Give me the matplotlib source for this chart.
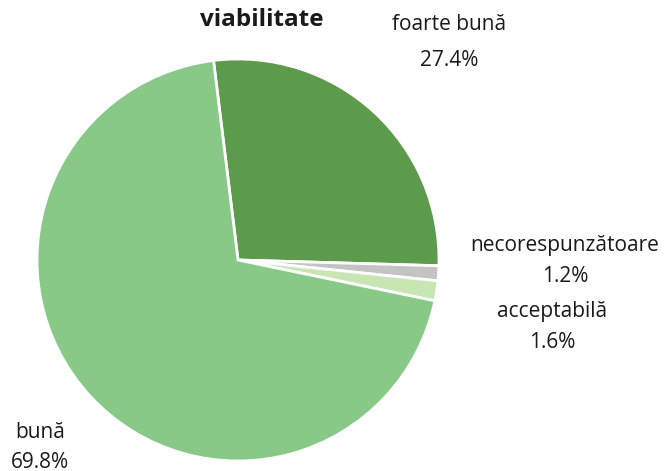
import matplotlib.pyplot as plt

categories = ["foarte bună", "necorespunzătoare", "acceptabilă", "bună"]
shares = [27.4, 1.2, 1.6, 69.8]
pct_labels = ["27.4%", "1.2%", "1.6%", "69.8%"]
colors = ["#5c9a4c", "#c3c3c3", "#c8e6b4", "#88c987"]

W, H = 665, 471
fig = plt.figure(figsize=(W / 100, H / 100), dpi=100)
ax = fig.add_axes([0, 0, 1, 1])

ax.pie(
    shares,
    colors=colors,
    startangle=97,
    counterclock=False,
    center=(238, H - 260),
    radius=201,
    explode=[0.015, 0, 0, 0],
    wedgeprops=dict(edgecolor="white", linewidth=2),
    frame=True,
)
ax.set_xlim(0, W)
ax.set_ylim(0, H)
ax.axis("off")

font = "Open Sans"
ax.text(262, H - 20, "viabilitate", ha="center", va="center",
        fontsize=17.5, fontweight="bold", family=font, color="#1a1a1a")

# label positions in pixels: x, y of name line, y of percent line
label_pos = [(449, 24, 60), (565, 245, 276), (552, 311, 342), (40, 432, 462)]
for name, pct, (x, y1, y2) in zip(categories, pct_labels, label_pos):
    ax.text(x, H - y1, name, ha="center", va="center",
            fontsize=15, family=font, color="#1a1a1a")
    ax.text(x, H - y2, pct, ha="center", va="center",
            fontsize=15, family=font, color="#1a1a1a")

fig.savefig("out.png", dpi=100)
